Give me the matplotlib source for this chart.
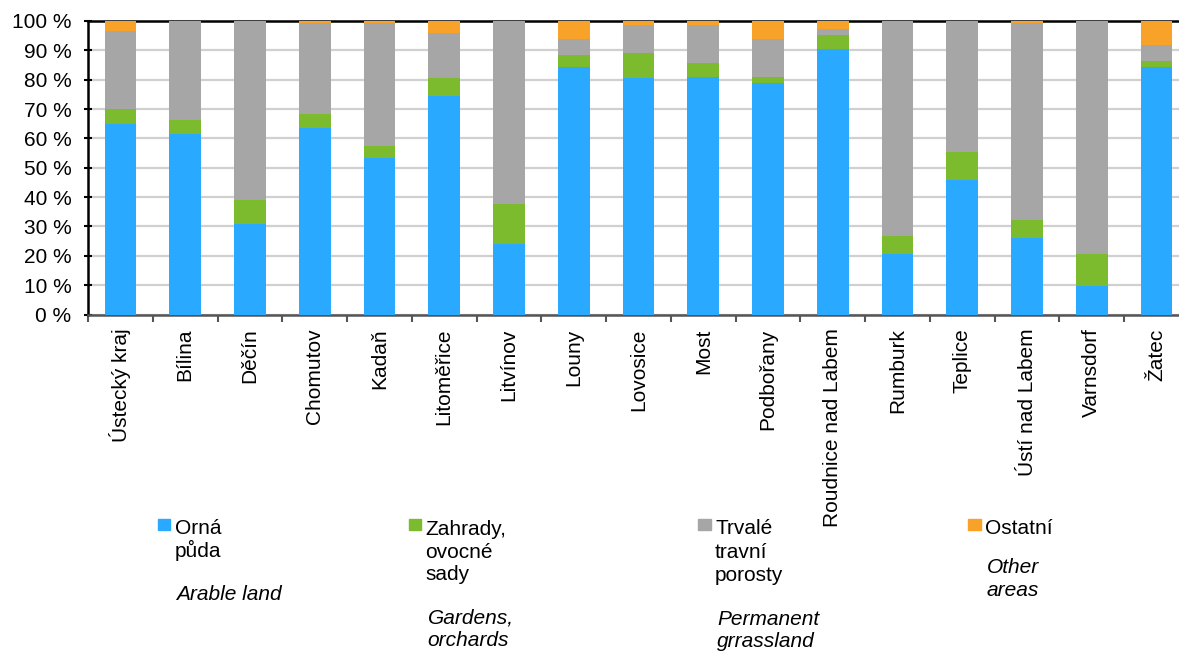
import matplotlib
matplotlib.use("Agg")
import matplotlib.pyplot as plt
from matplotlib.patches import Rectangle
from matplotlib.ticker import FixedLocator, FuncFormatter
import numpy as np

plt.rcParams['font.family'] = ['Liberation Sans', 'DejaVu Sans']

categories = ["Ústecký kraj", "Bílina", "Děčín", "Chomutov", "Kadaň", "Litoměřice",
              "Litvínov", "Louny", "Lovosice", "Most", "Podbořany", "Roudnice nad Labem",
              "Rumburk", "Teplice", "Ústí nad Labem", "Varnsdorf", "Žatec"]
arable    = [64.8, 61.5, 30.8, 63.5, 53.3, 74.3, 24.0, 84.4, 80.5, 81.0, 79.0, 90.5, 20.6, 45.7, 26.0, 9.7, 84.3]
gardens   = [5.3, 4.6, 8.2, 4.7, 4.1, 6.2, 13.6, 4.1, 8.7, 4.8, 2.0, 4.8, 6.1, 9.5, 6.2, 10.9, 2.2]
grassland = [26.5, 33.9, 61.0, 31.1, 41.9, 15.5, 62.4, 5.4, 9.5, 12.9, 12.9, 2.0, 73.3, 44.8, 67.1, 79.4, 5.3]
other     = [3.4, 0.0, 0.0, 0.7, 0.7, 4.0, 0.0, 6.1, 1.3, 1.3, 6.1, 2.7, 0.0, 0.0, 0.7, 0.0, 8.2]

series_cz = [["Orná", "půda"], ["Zahrady,", "ovocné", "sady"], ["Trvalé", "travní", "porosty"], ["Ostatní"]]
series_en = [["Arable land"], ["Gardens,", "orchards"], ["Permanent", "grrassland"], ["Other", "areas"]]
colors = ["#29A9FF", "#7CBA2E", "#A6A6A6", "#F9A229"]
yticks = [0, 10, 20, 30, 40, 50, 60, 70, 80, 90, 100]

W, H = 1179, 651
fig = plt.figure(figsize=(W / 100, H / 100), dpi=100)

def fx(px):
    return px / W

def fy(py):
    return 1 - py / H

FS = 15

ax = fig.add_axes([fx(88), fy(314.5), fx(1189 - 88), (314.5 - 21) / H])

x = np.arange(len(categories))
data = [arable, gardens, grassland, other]
bottom = np.zeros(len(categories))
for vals, col in zip(data, colors):
    v = np.array(vals)
    ax.bar(x, v, width=0.49, bottom=bottom, color=col, zorder=3, linewidth=0)
    bottom += v

ax.set_xlim(-0.5, len(categories) - 0.5)
ax.set_ylim(0, 100)
ax.set_yticks(yticks)
ax.yaxis.set_major_formatter(FuncFormatter(lambda v, p: f"{int(v)} %"))
ax.grid(axis='y', color='#D0D0D0', linewidth=1.6, zorder=0)
ax.set_axisbelow(True)

ax.set_xticks(x)
ax.set_xticklabels(categories, rotation=90, va='top', ha='center')
ax.xaxis.set_minor_locator(FixedLocator(np.arange(len(categories) + 1) - 0.5))
ax.tick_params(axis='x', which='major', length=0, pad=10, labelsize=FS)
ax.tick_params(axis='x', which='minor', length=5, width=1.5, color='#555555', direction='out')
ax.tick_params(axis='y', which='major', length=6, width=1.5, color='black', direction='inout',
               pad=9, labelsize=FS)

ax.spines['right'].set_visible(False)
ax.spines['top'].set_color('black')
ax.spines['top'].set_linewidth(1.8)
ax.spines['left'].set_color('black')
ax.spines['left'].set_linewidth(1.8)
ax.spines['bottom'].set_color('#555555')
ax.spines['bottom'].set_linewidth(1.8)

# Legend (manual)
sq_x = [157.5, 408.5, 698, 968]
cz_base = [[534, 557], [535, 557.5, 580], [534, 558, 581], [534]]
en_base = [[600], [624, 646.5], [625, 647], [573, 596]]
for i in range(4):
    fig.patches.append(Rectangle((fx(sq_x[i]), fy(529.5)), 12.5 / W, 11 / H,
                                 transform=fig.transFigure, color=colors[i], figure=fig))
    tx = sq_x[i] + 17
    for line, b in zip(series_cz[i], cz_base[i]):
        fig.text(fx(tx), fy(b), line, ha='left', va='baseline', fontsize=FS)
    for line, b in zip(series_en[i], en_base[i]):
        fig.text(fx(tx + 2), fy(b), line, ha='left', va='baseline', fontsize=FS, style='italic')

fig.savefig("out.png", dpi=100)
